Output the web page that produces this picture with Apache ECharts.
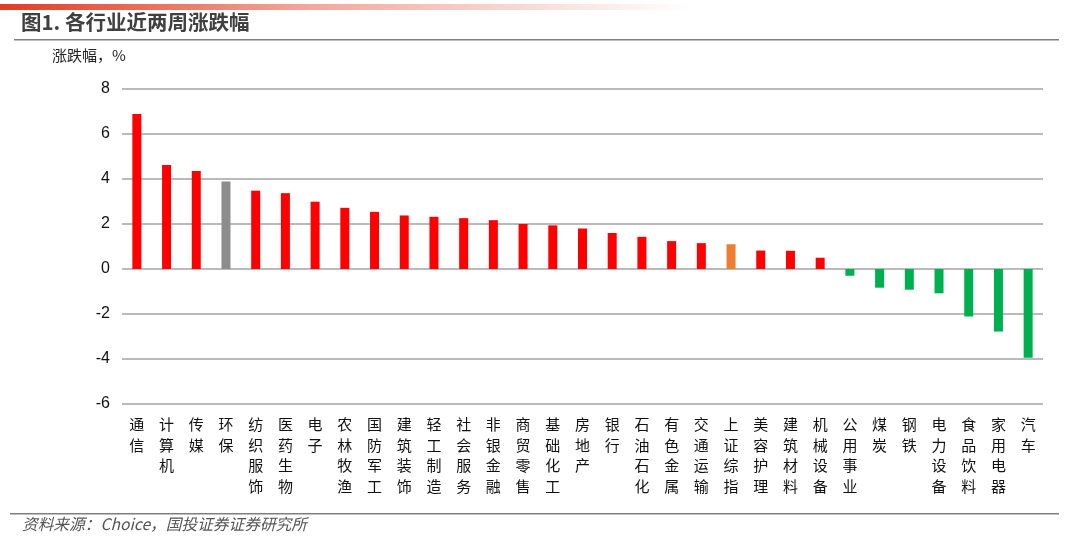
<!DOCTYPE html>
<html>
<head>
<meta charset="utf-8">
<script src="https://cdn.jsdelivr.net/npm/echarts@6/dist/echarts.min.js"></script>
<style>
html,body{margin:0;padding:0;background:#fff;}
#main{width:1065px;height:539px;}
</style>
</head>
<body>
<div id="main"></div>
<script>
var categories = ['通信','计算机','传媒','环保','纺织服饰','医药生物','电子','农林牧渔','国防军工','建筑装饰','轻工制造','社会服务','非银金融','商贸零售','基础化工','房地产','银行','石油石化','有色金属','交通运输','上证综指','美容护理','建筑材料','机械设备','公用事业','煤炭','钢铁','电力设备','食品饮料','家用电器','汽车'];
var values = [6.89,4.62,4.36,3.89,3.48,3.37,2.99,2.72,2.54,2.38,2.32,2.26,2.17,2.00,1.94,1.80,1.60,1.43,1.24,1.15,1.10,0.82,0.81,0.50,-0.30,-0.83,-0.92,-1.08,-2.11,-2.78,-3.94];
var yTicks = [-6,-4,-2,0,2,4,6,8];
var grayName = '环保';
var orangeName = '上证综指';

var COLORS = {up:'#FF0000', down:'#00B050', gray:'#8C8C8C', orange:'#ED7D31'};
var seriesData = values.map(function(v,i){
  var c = v >= 0 ? COLORS.up : COLORS.down;
  if (categories[i] === grayName) c = COLORS.gray;
  if (categories[i] === orangeName) c = COLORS.orange;
  return {value:v, itemStyle:{color:c}};
});

var chart = echarts.init(document.getElementById('main'), null, {renderer:'canvas'});
var cjk = '"Noto Sans CJK SC", "Liberation Sans", sans-serif';
chart.setOption({
  animation:false,
  backgroundColor:'#ffffff',
  graphic:[
    {type:'rect', shape:{x:0,y:4,width:690,height:6}, style:{fill:new echarts.graphic.LinearGradient(0,0,1,0,[{offset:0,color:'#E33B24'},{offset:0.45,color:'#F2A89C'},{offset:1,color:'#FFFFFF'}])}},
    {type:'text', left:21, top:12, style:{text:'图1. 各行业近两周涨跌幅', font:'bold 20.5px "Noto Sans CJK SC", sans-serif', fill:'#404040'}},
    {type:'rect', shape:{x:14,y:39,width:1045,height:1.6}, style:{fill:'#7f7f7f'}},
    {type:'text', left:52, top:48, style:{text:'涨跌幅，%', font:'15px "Noto Sans CJK SC", sans-serif', fill:'#222'}},
    {type:'rect', shape:{x:10,y:513,width:1049,height:1.6}, style:{fill:'#7f7f7f'}},
    {type:'text', left:22, top:516, style:{text:'资料来源：Choice，国投证券证券研究所', font:'italic 15.7px "Noto Sans CJK SC", sans-serif', fill:'#555'}}
  ],
  grid:{left:122, right:22, top:89, bottom:135, containLabel:false},
  xAxis:{
    type:'category',
    data:categories,
    axisLine:{show:false, onZero:false},
    axisTick:{show:false},
    splitLine:{show:false},
    axisLabel:{
      interval:0, margin:10,
      verticalAlign:'top',
      fontFamily:cjk, fontSize:15, color:'#111', lineHeight:20.7,
      formatter:function(v){return v.split('').join('\n');}
    }
  },
  yAxis:{
    type:'value',
    min:-6, max:8, interval:2,
    axisLine:{show:false},
    axisTick:{show:false},
    splitLine:{show:true, lineStyle:{color:'#a3a3a3', width:1.6}},
    axisLabel:{fontFamily:'"Liberation Sans", Arial, sans-serif', fontSize:16, color:'#111', margin:12,
      formatter:function(v){return yTicks.indexOf(v) >= 0 ? String(v) : '';}}
  },
  series:[{
    type:'bar',
    data:seriesData,
    barWidth:9,
    itemStyle:{borderWidth:0}
  }]
});
</script>
</body>
</html>
